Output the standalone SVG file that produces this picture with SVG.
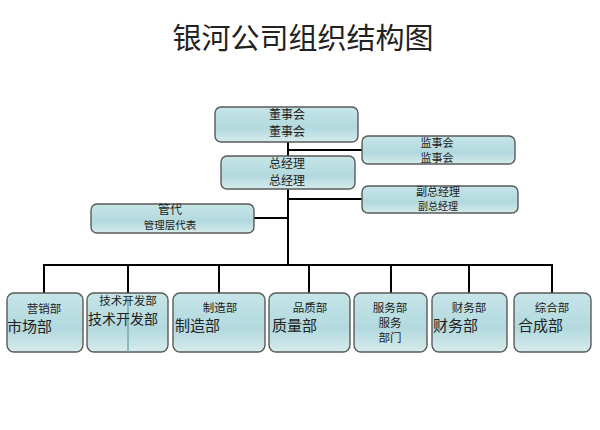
<svg xmlns="http://www.w3.org/2000/svg" width="600" height="430" viewBox="0 0 600 430">
<defs>
<linearGradient id="g" x1="0" y1="0" x2="0" y2="1">
<stop offset="0" stop-color="#c6e5e8"/>
<stop offset="0.6" stop-color="#b2d9de"/>
<stop offset="1" stop-color="#d6ebec"/>
</linearGradient>
<style>
.box{fill:url(#g);stroke:#5a5a5a;stroke-width:1.4}
.t{font-family:"Noto Sans CJK SC","Liberation Sans",sans-serif;fill:#222;text-anchor:middle}
.s{font-size:11.5px}
.m{font-size:12px}
.b{font-size:15px;text-anchor:start}
.ln{stroke:#000;stroke-width:2;fill:none}
</style>
</defs>
<rect width="600" height="430" fill="#fff"/>
<text x="303" y="49" class="t" style="font-size:29px;font-family:'Noto Sans CJK SC',sans-serif">银河公司组织结构图</text>
<g id="connectors">
<path class="ln" d="M288 142V265M288 150H362M288 199H362M254 218H288M44 265H553M44 264V293M128 264V293M219 264V293M309 264V293M391 264V293M469 264V293M552 264V293"/>
</g>
<g id="dongshihui"><rect class="box" x="215" y="107" width="143" height="35" rx="6"/><text class="t m" x="287" y="119">董事会</text><text class="t m" x="287" y="136">董事会</text></g>
<g id="jianshihui"><rect class="box" x="362" y="136" width="153" height="28" rx="6"/><text class="t" style="font-size:11px" x="437" y="147">监事会</text><text class="t" style="font-size:11px" x="437" y="161.5">监事会</text></g>
<g id="zongjingli"><rect class="box" x="221" y="156" width="134" height="33" rx="6"/><text class="t m" x="287" y="168">总经理</text><text class="t m" x="287" y="185">总经理</text></g>
<g id="fuzongjingli"><rect class="box" x="362" y="186" width="156" height="27" rx="6"/><text class="t" style="font-size:11px" x="438" y="196">副总经理</text><text class="t" style="font-size:10px" x="438" y="210">副总经理</text></g>
<g id="guandai"><rect class="box" x="91" y="204" width="163" height="29" rx="6"/><text class="t m" x="170" y="214">管代</text><text class="t" style="font-size:10.5px" x="170" y="229">管理层代表</text></g>
<g id="yingxiao"><rect class="box" x="7" y="293" width="76" height="59" rx="7"/><text class="t s" x="44" y="313">营销部</text><text class="t b" x="7" y="332">市场部</text></g>
<g id="jishu"><rect class="box" x="87" y="293" width="81" height="59" rx="7"/><line x1="128" y1="298" x2="128" y2="352" stroke="#7aa" stroke-width="1.5"/><text class="t s" x="128" y="305">技术开发部</text><text class="t b" style="font-size:14px" x="88" y="324">技术开发部</text></g>
<g id="zhizao"><rect class="box" x="173" y="293" width="92" height="59" rx="7"/><text class="t s" x="220" y="312">制造部</text><text class="t b" x="175" y="331">制造部</text></g>
<g id="pinzhi"><rect class="box" x="269" y="293" width="81" height="59" rx="7"/><text class="t s" x="310" y="312">品质部</text><text class="t b" x="272" y="331">质量部</text></g>
<g id="fuwu"><rect class="box" x="354" y="293" width="73" height="59" rx="7"/><text class="t s" x="390" y="312">服务部</text><text class="t s" x="390" y="327">服务</text><text class="t s" x="390" y="342">部门</text></g>
<g id="caiwu"><rect class="box" x="432" y="293" width="75" height="59" rx="7"/><text class="t s" x="469" y="312">财务部</text><text class="t b" x="433" y="331">财务部</text></g>
<g id="zonghe"><rect class="box" x="514" y="293" width="77" height="59" rx="7"/><text class="t s" x="552" y="312">综合部</text><text class="t b" x="518" y="331">合成部</text></g>
</svg>
